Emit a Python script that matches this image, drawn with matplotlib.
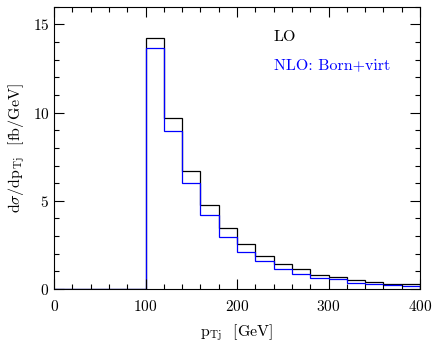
import numpy as np
import matplotlib.pyplot as plt
from matplotlib.ticker import MultipleLocator

# bin edges in GeV (20 GeV bins)
edges = [0, 20, 40, 60, 80, 100, 120, 140, 160, 180, 200, 220, 240, 260, 280,
         300, 320, 340, 360, 380, 400]
lo = [0, 0, 0, 0, 0, 14.25, 9.69, 6.70, 4.75, 3.44, 2.54, 1.88, 1.42, 1.12,
      0.82, 0.68, 0.51, 0.40, 0.30, 0.27]
nlo = [0, 0, 0, 0, 0, 13.66, 8.98, 6.02, 4.18, 2.95, 2.09, 1.56, 1.16, 0.85,
       0.65, 0.55, 0.36, 0.28, 0.23, 0.17]

plt.rcParams['font.family'] = 'cmr10'
plt.rcParams['mathtext.fontset'] = 'cm'
plt.rcParams['axes.formatter.use_mathtext'] = True

fig = plt.figure(figsize=(4.37, 3.42), dpi=100)
ax = fig.add_axes([0.124, 0.155, 0.837, 0.825])

ax.stairs(lo, edges, color='black', lw=0.9)
ax.stairs(nlo, edges, color='blue', lw=0.9)

ax.set_xlim(0, 400)
ax.set_ylim(0, 16)
ax.xaxis.set_major_locator(MultipleLocator(100))
ax.xaxis.set_minor_locator(MultipleLocator(20))
ax.yaxis.set_major_locator(MultipleLocator(5))
ax.yaxis.set_minor_locator(MultipleLocator(1))
ax.tick_params(which='both', direction='in', top=True, right=True, labelsize=11)
ax.tick_params(axis='x', pad=7)
ax.tick_params(which='major', length=7, width=0.8)
ax.tick_params(which='minor', length=3.5, width=0.8)

ax.set_xlabel(r'$\mathrm{p_{Tj}}$  [GeV]', fontsize=11.5, labelpad=6)
ax.set_ylabel(r'd$\sigma$/d$\mathrm{p_{Tj}}$  [fb/GeV]', fontsize=11.5)

ax.text(240, 14.07, 'LO', color='black', fontsize=11.5)
ax.text(240, 12.48, 'NLO: Born+virt', color='blue', fontsize=11.5)

fig.savefig('out.png', dpi=100)
